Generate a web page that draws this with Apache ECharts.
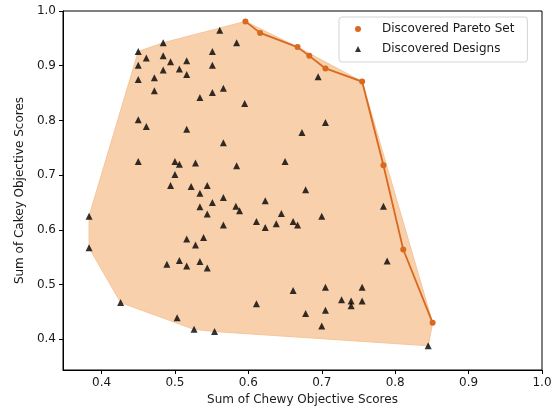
<!DOCTYPE html>
<html>
<head>
<meta charset="utf-8">
<script src="https://cdn.jsdelivr.net/npm/echarts@6/dist/echarts.min.js"></script>
<style>
  html, body { margin: 0; padding: 0; background: #fff; }
  #chart { width: 554px; height: 408px; }
</style>
</head>
<body>
<div id="chart"></div>
<script>
// pareto front (orange)
var paretoX = [0.596, 0.616, 0.667, 0.683, 0.705, 0.755, 0.784, 0.811, 0.851];
var paretoY = [0.981, 0.960, 0.934, 0.918, 0.895, 0.871, 0.718, 0.564, 0.430];

// all discovered designs (black triangles)
var designX = [
  0.561, 0.484, 0.450, 0.551, 0.461, 0.484, 0.494, 0.516, 0.450, 0.551,
  0.484, 0.506, 0.516, 0.450, 0.472, 0.472, 0.566, 0.551, 0.534, 0.584,
  0.695, 0.595, 0.450, 0.461, 0.516, 0.705, 0.673, 0.566, 0.450, 0.500,
  0.506, 0.528, 0.584, 0.650, 0.500, 0.494, 0.522, 0.544, 0.678, 0.534,
  0.566, 0.551, 0.534, 0.544, 0.566, 0.583, 0.588, 0.623, 0.645, 0.611,
  0.623, 0.638, 0.661, 0.667, 0.700, 0.784, 0.789, 0.383, 0.383, 0.516,
  0.539, 0.528, 0.489, 0.506, 0.516, 0.534, 0.544, 0.426, 0.503, 0.526,
  0.554, 0.611, 0.661, 0.705, 0.755, 0.727, 0.740, 0.740, 0.755, 0.678,
  0.705, 0.700, 0.845
];
var designY = [
  0.965, 0.942, 0.926, 0.926, 0.914, 0.918, 0.907, 0.909, 0.901, 0.901,
  0.892, 0.894, 0.884, 0.875, 0.878, 0.854, 0.859, 0.851, 0.842, 0.942,
  0.880, 0.831, 0.801, 0.789, 0.784, 0.796, 0.778, 0.759, 0.725, 0.725,
  0.720, 0.722, 0.717, 0.725, 0.701, 0.681, 0.679, 0.681, 0.673, 0.667,
  0.659, 0.650, 0.642, 0.629, 0.609, 0.643, 0.635, 0.653, 0.630, 0.615,
  0.604, 0.611, 0.615, 0.609, 0.625, 0.643, 0.543, 0.625, 0.567, 0.583,
  0.586, 0.572, 0.537, 0.544, 0.534, 0.542, 0.530, 0.467, 0.439, 0.418,
  0.414, 0.465, 0.489, 0.495, 0.495, 0.472, 0.470, 0.461, 0.470, 0.447,
  0.453, 0.424, 0.388
];

var axisTicks = [0.4, 0.5, 0.6, 0.7, 0.8, 0.9, 1.0];

var paretoData = paretoX.map(function (x, i) { return [x, paretoY[i]]; });
var designData = designX.map(function (x, i) { return [x, designY[i]]; });

// convex hull of every point (monotone chain)
function convexHull(points) {
  var p = points.slice().sort(function (a, b) { return a[0] - b[0] || a[1] - b[1]; });
  function cross(o, a, b) {
    return (a[0] - o[0]) * (b[1] - o[1]) - (a[1] - o[1]) * (b[0] - o[0]);
  }
  var lower = [], upper = [];
  p.forEach(function (pt) {
    while (lower.length >= 2 && cross(lower[lower.length - 2], lower[lower.length - 1], pt) <= 0) lower.pop();
    lower.push(pt);
  });
  for (var i = p.length - 1; i >= 0; i--) {
    while (upper.length >= 2 && cross(upper[upper.length - 2], upper[upper.length - 1], p[i]) <= 0) upper.pop();
    upper.push(p[i]);
  }
  upper.pop(); lower.pop();
  return lower.concat(upper);
}
var hull = convexHull(paretoData.concat(designData));

var font = 'DejaVu Sans';
var textColor = '#1a1a1a';

function axisCommon(name) {
  return {
    type: 'value',
    name: name,
    nameLocation: 'middle',
    nameTextStyle: { fontFamily: font, fontSize: 12, color: textColor },
    splitLine: { show: false },
    axisLine: { show: true, lineStyle: { color: '#000', width: 1 } },
    axisTick: { show: true, length: 4, lineStyle: { color: '#000', width: 1 }, customValues: axisTicks },
    axisLabel: {
      fontFamily: font, fontSize: 12, color: textColor, margin: 7,
      customValues: axisTicks,
      formatter: function (v) { return v.toFixed(1); }
    }
  };
}

var xAxis = axisCommon('Sum of Chewy Objective Scores');
xAxis.min = 0.3475;
xAxis.max = 1.0;
xAxis.nameGap = 22;

var yAxis = axisCommon('Sum of Cakey Objective Scores');
yAxis.min = 0.3437;
yAxis.max = 1.0;
yAxis.nameGap = 36;

var chart = echarts.init(document.getElementById('chart'), null, { renderer: 'canvas' });
chart.setOption({
  animation: false,
  backgroundColor: '#fff',
  grid: {
    left: 63, right: 12, top: 11, bottom: 38,
    show: true, borderColor: '#000', borderWidth: 1,
    outerBoundsMode: 'none'
  },
  legend: {
    left: 339, top: 17,
    orient: 'vertical',
    padding: [5, 13, 6, 16],
    itemGap: 6,
    itemWidth: 6, itemHeight: 6,
    backgroundColor: 'rgba(255,255,255,0.8)',
    borderColor: '#d4d4d4', borderWidth: 1, borderRadius: 3,
    textStyle: { fontFamily: font, fontSize: 12, color: textColor, lineHeight: 14, padding: [0, 0, 0, 16] },
    data: [
      { name: 'Discovered Pareto Set', icon: 'circle' },
      { name: 'Discovered Designs', icon: 'triangle' }
    ]
  },
  xAxis: xAxis,
  yAxis: yAxis,
  series: [
    {
      name: 'hull',
      type: 'custom',
      silent: true,
      z: 1,
      data: hull,
      encode: { x: 0, y: 1 },
      renderItem: function (params, api) {
        if (params.dataIndex !== 0) return;
        var pts = hull.map(function (p) { return api.coord(p); });
        return {
          type: 'polygon',
          shape: { points: pts },
          style: { fill: '#f8d0ac', stroke: '#f6c59a', lineWidth: 1 }
        };
      }
    },
    {
      name: 'Discovered Pareto Set',
      type: 'line',
      z: 3,
      data: paretoData,
      symbol: 'circle',
      symbolSize: 6,
      showSymbol: true,
      color: '#d8691f',
      lineStyle: { color: '#d8691f', width: 1.8 },
      itemStyle: { color: '#d8691f' }
    },
    {
      name: 'Discovered Designs',
      type: 'scatter',
      z: 4,
      data: designData,
      symbol: 'triangle',
      symbolSize: 7,
      itemStyle: { color: '#000' }
    }
  ]
});
</script>
</body>
</html>
